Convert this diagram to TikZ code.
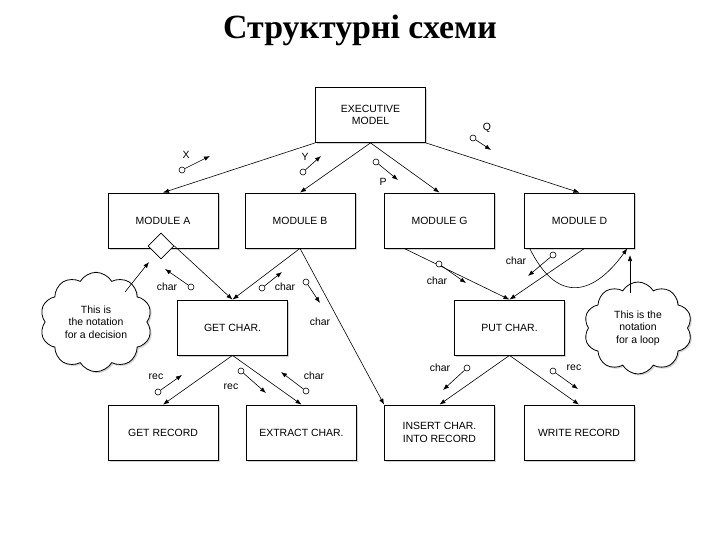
\documentclass[tikz,border=0pt]{standalone}
\usepackage{fontspec}
\setmainfont{Liberation Sans}
\newfontfamily\titlefont{Liberation Serif}
\usetikzlibrary{shapes.geometric,shapes.symbols,shadows,arrows.meta}
\begin{document}
\begin{tikzpicture}[x=1bp,y=-1bp,
 box/.style={draw,thick,fill=white,drop shadow={shadow xshift=1.5bp,shadow yshift=-1.5bp,opacity=0.35},minimum width=110bp,minimum height=55bp,align=center,font=\fontsize{10.5}{12.5}\selectfont,inner sep=1pt},
 cl/.style={cloud,cloud puffs=10,cloud puff arc=120,draw,thick,fill=white,drop shadow={shadow xshift=1.5bp,shadow yshift=-1.5bp,opacity=0.35},align=center,font=\fontsize{10.5}{12.5}\selectfont,inner sep=0pt},
 ln/.style={-{Latex[length=6bp,width=4.5bp]},semithick},
 cp/.style={circle,draw,semithick,inner sep=0pt,minimum size=6bp,fill=white},
 lab/.style={font=\fontsize{10.5}{11}\selectfont,inner sep=1pt}]
\useasboundingbox (0,0) rectangle (720,540);
\node[font=\titlefont\bfseries\fontsize{34}{36}\selectfont] (title) at (360,30) {Структурні схеми};
\node[box] (ex) at (370.5,115) {EXECUTIVE\\MODEL};
\node[box] (a) at (163,220.5) {MODULE A};
\node[box] (b) at (300,220.5) {MODULE B};
\node[box] (g) at (439.5,220.5) {MODULE G};
\node[box] (d) at (579.5,220.5) {MODULE D};
\node[box] (gc) at (232.5,327.5) {GET CHAR.};
\node[box] (pc) at (509.5,327.5) {PUT CHAR.};
\node[box] (gr) at (163,432.5) {GET RECORD};
\node[box] (ec) at (301.5,432.5) {EXTRACT CHAR.};
\node[box] (ic) at (439.5,432.5) {INSERT CHAR.\\INTO RECORD};
\node[box] (wr) at (579,432.5) {WRITE RECORD};
\node[diamond,draw,thick,fill=white,minimum size=26bp,inner sep=0pt] (dm) at (161,246) {};
\node[cl,minimum width=112bp,minimum height=84bp] (c1) at (96,322) {This is\\the notation\\for a decision};
\node[cl,minimum width=108bp,minimum height=92bp] (c2) at (638,328) {This is the\\notation\\for a loop};
% main connectors
\draw[ln] (ex.south west) -- (a.north);
\draw[ln] (ex.south) -- (b.north);
\draw[ln] (ex.south) -- (g.north);
\draw[ln] (ex.south east) -- (d.north);
\draw[ln] (dm.east) -- (gc.north);
\draw[ln] (b.south) -- (gc.north);
\draw[ln] (b.south) -- (ic.north west);
\draw[ln] (g.south west) ++(20,0) coordinate (gs) (gs) -- (pc.north);
\draw[ln] (d.south) ++(5,0) coordinate (ds) (ds) -- (pc.north);
\coordinate (la) at ([xshift=-50]d.south);
\coordinate (lb) at ([xshift=48]d.south);
\draw[ln] (la) .. controls (555,300) and (590,300) .. (lb);
\draw[ln] (gc.south) -- (gr.north);
\draw[ln] (gc.south) -- (ec.north);
\draw[ln] (pc.south) -- (ic.north);
\draw[ln] (pc.south) -- (wr.north);
\coordinate (c1t) at (125,292);
\coordinate (dmt) at (149,262);
\draw[ln] (c1t) -- (dmt);
\coordinate (c2t) at (630,293);
\coordinate (c2h) at (630,255);
\draw[ln] (c2t) -- (c2h);
% couples
\newcommand\cpl[5]{\node[cp] (#1) at (#2) {}; \coordinate (#1h) at (#3); \draw[ln] (#1) -- (#1h); \node[lab] (#1l) at (#4) {#5};}
\cpl{x}{182,170}{210,156}{186,155}{X}
\cpl{y}{303,172}{321,156}{305,157}{Y}
\cpl{p}{376,162}{398,180}{383,182}{P}
\cpl{q}{473,138}{491,150}{487,128}{Q}
\cpl{c1}{191,287}{165,269}{167,287}{char}
\cpl{c2}{262,288}{282,272}{285,287}{char}
\cpl{c3}{306,282}{320,303}{320,322}{char}
\cpl{r1}{158,392}{182,375}{156,377}{rec}
\cpl{r2}{241,371}{266,393}{231,387}{rec}
\cpl{c4}{306,391}{281,372}{314,376}{char}
\cpl{c5}{439,264}{466,283}{437,281}{char}
\cpl{c6}{553,255}{528,276}{516,261}{char}
\cpl{c7}{467,368}{443,390}{440,368}{char}
\cpl{r3}{553,371}{578,389}{574,368}{rec}
\end{tikzpicture}
\end{document}
